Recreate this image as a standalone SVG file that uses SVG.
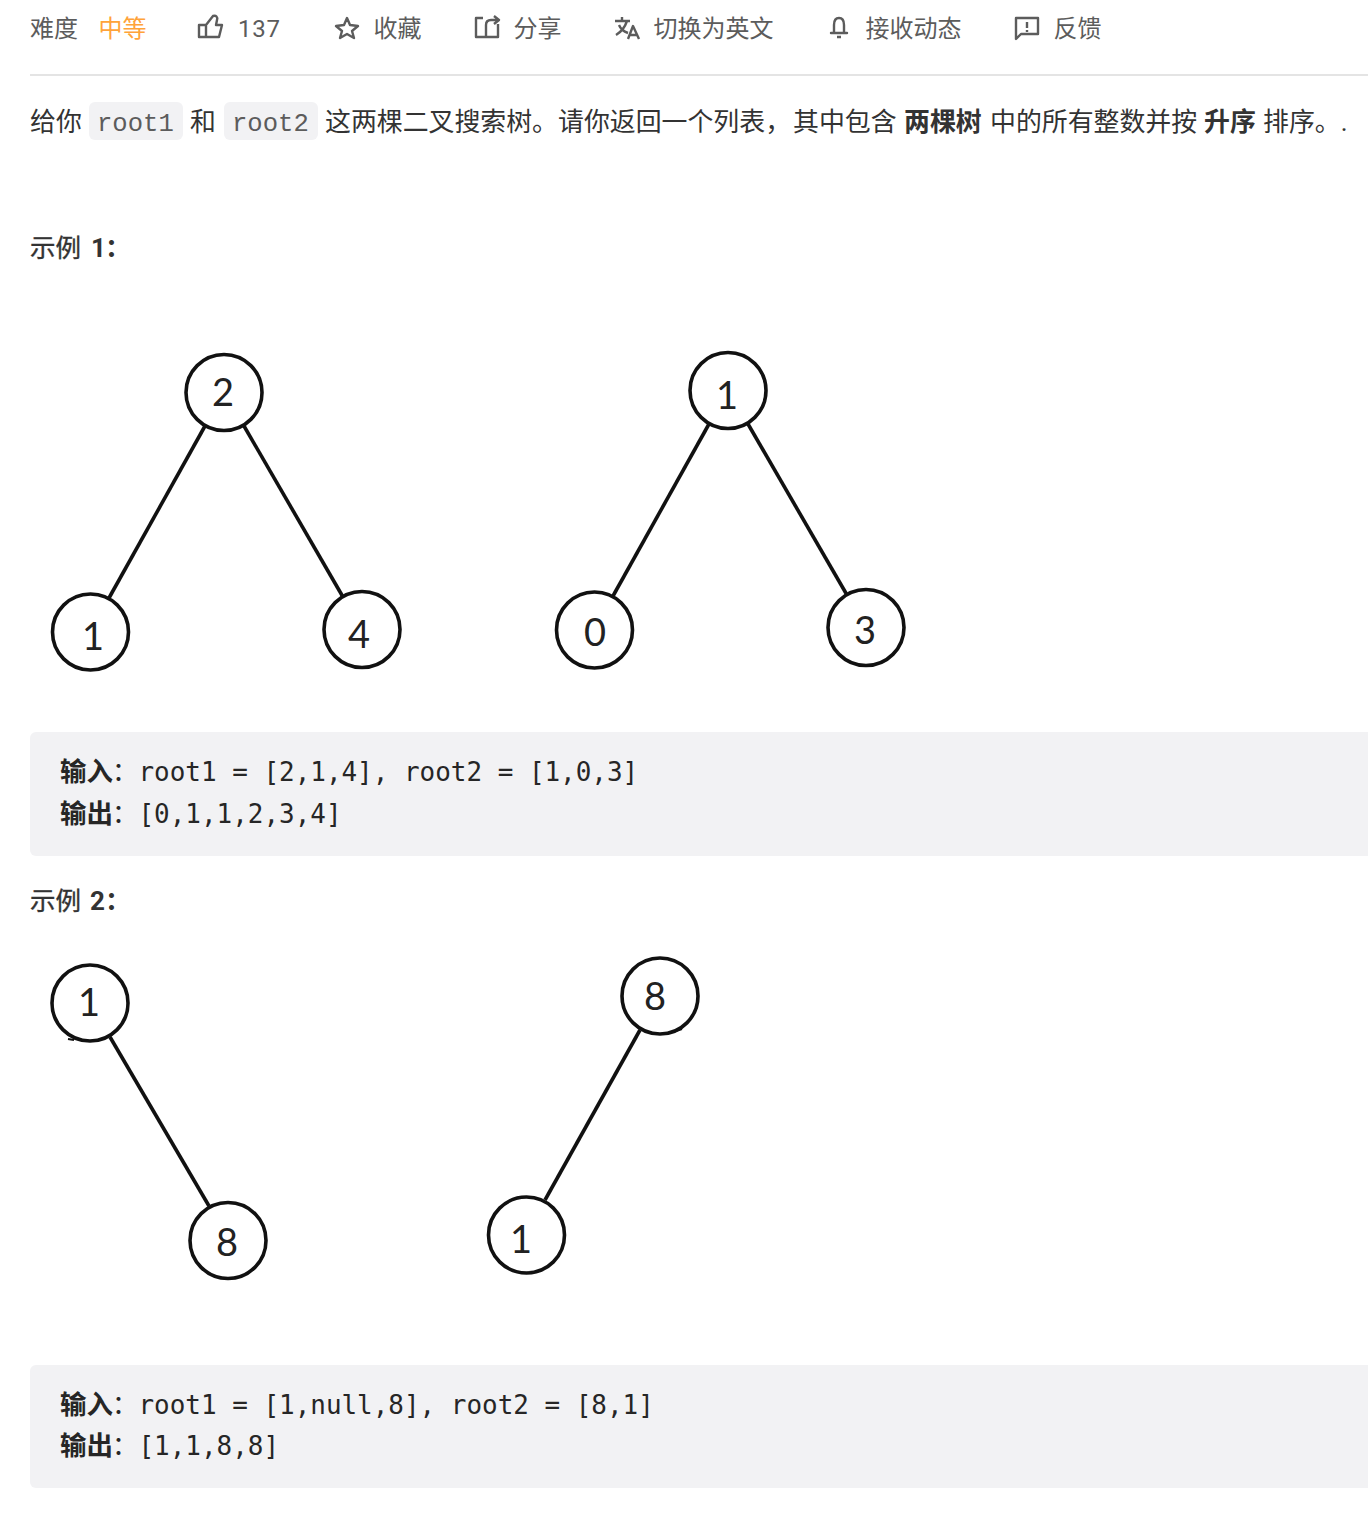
<svg xmlns="http://www.w3.org/2000/svg" width="1368" height="1518" viewBox="0 0 1368 1518">
<style>
text{font-family:"Roboto","Noto Sans CJK SC",sans-serif}
.t{font-size:24px;fill:#5c5c5c}
.p{font-size:25.9px;fill:#333}
.b{font-weight:700}
.c{font-family:"Liberation Mono","Noto Sans CJK SC",monospace;font-size:25.6px;fill:#5c5c5c}
.m{font-family:"DejaVu Sans Mono","Noto Sans CJK SC",monospace;font-size:25.95px;fill:#262626}
.l{font-size:26.5px;font-weight:700;fill:#262626}
.h{font-size:25.5px;fill:#333;stroke:#333;stroke-width:.35}
.d{font-size:26px;fill:#333;font-weight:700}
.n circle{fill:#fff;stroke:#111;stroke-width:3.6}
.n text{font-family:"Lato",sans-serif;font-size:38px;fill:#222;text-anchor:middle}
.e line,.e path{stroke:#111;stroke-width:3.6;fill:none}
.i{fill:none;stroke:#5c5c5c;stroke-width:2.4;stroke-linejoin:round}
.bg{fill:#f2f2f4}
</style>
<rect width="1368" height="1518" fill="#fff"/>
<g id="toolbar">
<text class="t" x="30" y="37">难度</text>
<text class="t" x="98.500" y="37" style="fill:#ffa339">中等</text>
<path class="i" d="M199 37V25H206L213 16C216 15 218 17 217 20L216 25H222L219 37ZM206 25V37"/>
<text class="t" x="238" y="37" style="letter-spacing:.8px">137</text>
<path class="i" d="M347 18L350 25L358 26L352 31L354 38L347 34L340 38L342 31L336 26L344 25Z"/>
<text class="t" x="373.500" y="37">收藏</text>
<path class="i" d="M483 18H476V37H498V24M486 37V25C486 21 489 20 491 20H498M494 16L499 20L494 24"/>
<text class="t" x="513.500" y="37">分享</text>
<path class="i" d="M615 21H630M622 17V21M627 21C625 27 621 32 616 35M619 25C621 30 625 32 628 33M628 39L633 26L639 39M630 35H637"/>
<text class="t" x="653.500" y="37">切换为英文</text>
<path class="i" d="M839 18C835 18 834 21 834 25V33H831H847H844V25C844 21 843 18 839 18ZM837 37H841"/>
<text class="t" x="865.500" y="37">接收动态</text>
<path class="i" d="M1016 18H1038V34H1021L1016 39ZM1027 22V28M1027 30V32"/>
<text class="t" x="1053.500" y="37">反馈</text>
</g>
<rect x="30" y="74" width="1338" height="2" fill="#e4e4e4"/>
<g id="intro">
<text class="p" x="30" y="131">给你</text>
<rect class="bg" x="89" y="102" width="94" height="38" rx="6"/>
<text class="c" x="97" y="131">root1</text>
<text class="p" x="190" y="131">和</text>
<rect class="bg" x="224" y="102" width="94" height="38" rx="6"/>
<text class="c" x="232" y="131">root2</text>
<text class="p" x="325" y="131">这两棵二叉搜索树。请你返回一个列表，</text>
<text class="p" x="793" y="131">其中包含</text>
<text class="p b" x="904" y="131">两棵树</text>
<text class="p" x="990" y="131">中的所有整数并按</text>
<text class="p b" x="1204" y="131">升序</text>
<text class="p" x="1263" y="131">排序。.</text>
</g>
<g id="h1"><text class="h" x="30" y="257">示例</text><text class="d" x="91" y="257">1</text><text class="d" x="105" y="257">：</text></g>
<g id="edges" class="e">
<line x1="205" y1="426" x2="109" y2="598"/>
<line x1="244" y1="426" x2="343" y2="597"/>
<line x1="709" y1="424" x2="613" y2="596"/>
<line x1="748" y1="424" x2="847" y2="595"/>
<line x1="110" y1="1037" x2="209" y2="1206"/>
<line x1="640" y1="1030" x2="545" y2="1200"/>
<path d="M68 1039L74 1040M676 1031L682 1029" style="stroke-width:2"/>
</g>
<g id="n2" class="n"><circle cx="224" cy="392.500" r="38"/><text x="223" y="406">2</text></g>
<g id="n1a" class="n"><circle cx="90.500" cy="632" r="38"/><text x="93" y="650">1</text></g>
<g id="n4" class="n"><circle cx="362" cy="629.500" r="38"/><text x="359" y="648">4</text></g>
<g id="n1b" class="n"><circle cx="728" cy="390.500" r="38"/><text x="727" y="409">1</text></g>
<g id="n0" class="n"><circle cx="594.500" cy="630" r="38"/><text x="595" y="646">0</text></g>
<g id="n3" class="n"><circle cx="866" cy="627.500" r="38"/><text x="865" y="644">3</text></g>
<g id="n1c" class="n"><circle cx="90" cy="1003" r="38"/><text x="89" y="1016">1</text></g>
<g id="n8a" class="n"><circle cx="228" cy="1240.500" r="38"/><text x="227" y="1256">8</text></g>
<g id="n8b" class="n"><circle cx="660" cy="996" r="38"/><text x="655" y="1010">8</text></g>
<g id="n1d" class="n"><circle cx="526.500" cy="1235" r="38"/><text x="521" y="1253">1</text></g>
<g id="ex1">
<rect class="bg" x="30" y="732" width="1350" height="124" rx="6"/>
<text class="l" x="60" y="781">输入</text><text class="m" x="112" y="781">：</text><text class="m" x="138.500" y="781">root1 = [2,1,4], root2 = [1,0,3]</text>
<text class="l" x="60" y="823">输出</text><text class="m" x="112" y="823">：</text><text class="m" x="138.500" y="823">[0,1,1,2,3,4]</text>
</g>
<g id="h2"><text class="h" x="30" y="910">示例</text><text class="d" x="90" y="910">2</text><text class="d" x="105" y="910">：</text></g>
<g id="ex2">
<rect class="bg" x="30" y="1365" width="1350" height="123" rx="6"/>
<text class="l" x="60" y="1414">输入</text><text class="m" x="112" y="1414">：</text><text class="m" x="138.500" y="1414">root1 = [1,null,8], root2 = [8,1]</text>
<text class="l" x="60" y="1455">输出</text><text class="m" x="112" y="1455">：</text><text class="m" x="138.500" y="1455">[1,1,8,8]</text>
</g>
</svg>
